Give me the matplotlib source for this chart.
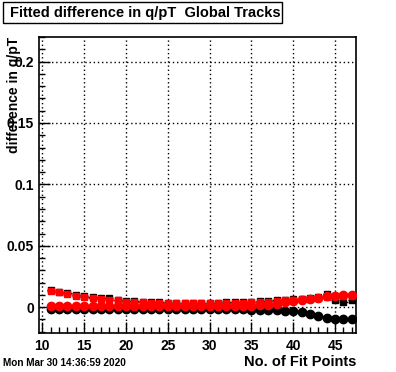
import numpy as np
import matplotlib.pyplot as plt
from matplotlib.patches import Rectangle
from matplotlib.ticker import MultipleLocator

plt.rcParams['font.family'] = ['Liberation Sans', 'DejaVu Sans']

fit_points = np.arange(11, 48)

# black squares (mostly hidden behind the red ones)
black_sq = [0.0138, 0.0127, 0.0113, 0.0099, 0.0090, 0.0081, 0.0072, 0.0072, 0.0061,
            0.0050, 0.0047, 0.0045, 0.0042, 0.0040, 0.0038, 0.0038, 0.0038, 0.0038,
            0.0038, 0.0038, 0.0038, 0.0039, 0.0040, 0.0042, 0.0045, 0.0047, 0.0050,
            0.0055, 0.0060, 0.0065, 0.0070, 0.0075, 0.0085, 0.0110, 0.0060, 0.0045,
            0.0057]
red_sq = [0.0133, 0.0122, 0.0108, 0.0094, 0.0085, 0.0076, 0.0067, 0.0060, 0.0056,
          0.0045, 0.0042, 0.0040, 0.0037, 0.0035, 0.0033, 0.0033, 0.0033, 0.0033,
          0.0033, 0.0033, 0.0033, 0.0034, 0.0035, 0.0037, 0.0040, 0.0042, 0.0045,
          0.0050, 0.0055, 0.0060, 0.0065, 0.0070, 0.0078, 0.0085, 0.0090, 0.0092,
          0.0095]
black_circ = [-0.0016, -0.0016, -0.0016, -0.0016, -0.0016, -0.0016, -0.0016, -0.0016,
              -0.0016, -0.0015, -0.0015, -0.0015, -0.0015, -0.0015, -0.0015, -0.0015,
              -0.0015, -0.0015, -0.0015, -0.0015, -0.0016, -0.0016, -0.0017, -0.0018,
              -0.0020, -0.0022, -0.0024, -0.0026, -0.0028, -0.0032, -0.0042, -0.0055,
              -0.0075, -0.0088, -0.0095, -0.0097, -0.0098]
red_circ = [0.0006, 0.0006, 0.0006, 0.0006, 0.0006, 0.0006, 0.0006, 0.0006, 0.0006,
            0.0006, 0.0006, 0.0006, 0.0006, 0.0006, 0.0006, 0.0006, 0.0006, 0.0006,
            0.0006, 0.0006, 0.0006, 0.0006, 0.0007, 0.0008, 0.0010, 0.0015, 0.0020,
            0.0030, 0.0040, 0.0050, 0.0060, 0.0068, 0.0078, 0.0088, 0.0095, 0.0097,
            0.0102]

fig = plt.figure(figsize=(3.96, 3.72), dpi=100)
ax = fig.add_axes([39/396, 1-333/372, (356-39)/396, (333-37)/372])

ax.errorbar(fit_points, black_sq, xerr=0.5, fmt='s', color='black', ms=4.5, lw=1,
            capsize=0, zorder=3)
ax.errorbar(fit_points, black_circ, xerr=0.5, fmt='o', color='black', ms=6, lw=1,
            capsize=0, zorder=4)
ax.errorbar(fit_points, red_sq, xerr=0.5, yerr=0.0007, fmt='s', color='red', ms=4.5,
            lw=1, capsize=0, zorder=5)
ax.errorbar(fit_points, red_circ, xerr=0.5, fmt='o', color='red', ms=6, lw=1,
            capsize=0, zorder=6)

ax.set_xlim(9.6, 47.5)
ax.set_ylim(-0.021, 0.22)
ax.xaxis.set_major_locator(MultipleLocator(5))
ax.xaxis.set_minor_locator(MultipleLocator(1))
ax.yaxis.set_major_locator(MultipleLocator(0.05))
ax.yaxis.set_minor_locator(MultipleLocator(0.01))
ax.set_yticks([0, 0.05, 0.1, 0.15, 0.2])
ax.set_yticklabels(['0', '0.05', '0.1', '0.15', '0.2'])
ax.tick_params(which='both', direction='in', top=False, right=False,
               labelsize=10, width=1)
ax.tick_params(which='major', length=8)
ax.tick_params(which='minor', length=4)
ax.tick_params(axis='x', pad=4)
for lab in ax.get_xticklabels() + ax.get_yticklabels():
    lab.set_fontweight('bold')
ax.grid(True, which='major', color='black', linestyle=(0, (1, 2)), linewidth=1)
ax.set_axisbelow(True)
for s in ax.spines.values():
    s.set_linewidth(1.2)

# title box
fig.patches.append(Rectangle((3/396, 1-23/372), 279/396, 21/372, transform=fig.transFigure,
                             fill=False, edgecolor='black', linewidth=1))
fig.text(10/396, 1-12.5/372, 'Fitted difference in q/pT  Global Tracks', fontsize=10.5,
         fontweight='bold', ha='left', va='center')

fig.text(14/396, 1-37/372, 'difference in q/pT', rotation=90, fontsize=10,
         fontweight='bold', ha='center', va='top')
fig.text(356/396, 1-362/372, 'No. of Fit Points', fontsize=10.5, fontweight='bold',
         ha='right', va='center')
fig.text(3/396, 1-363/372, 'Mon Mar 30 14:36:59 2020', fontsize=7.2, fontweight='bold',
         ha='left', va='center')

fig.savefig('out.png', dpi=100)
